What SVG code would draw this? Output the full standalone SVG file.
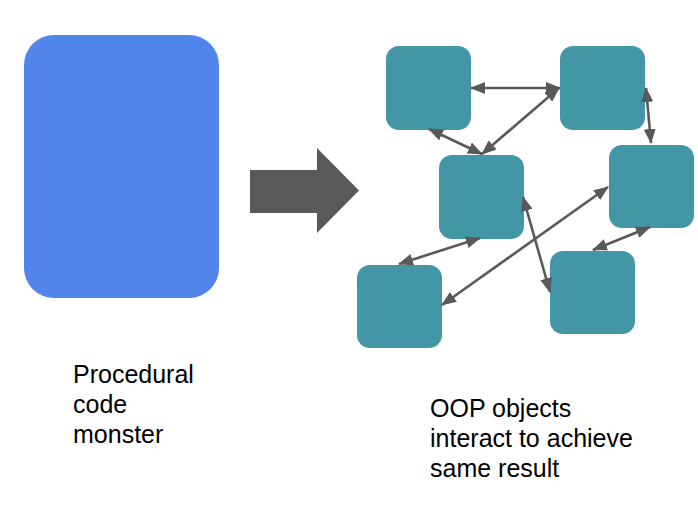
<svg xmlns="http://www.w3.org/2000/svg" width="698" height="528" viewBox="0 0 698 528">
<style>
.obj{fill:#4396A6}
.c{stroke:#595959;stroke-width:2.6;fill:none;marker-start:url(#ah);marker-end:url(#ah)}
.t{font-family:"Liberation Sans",Arial,sans-serif;font-size:25px;fill:#000}
</style>
<defs>
<marker id="ah" viewBox="0 0 15 12" refX="14" refY="6" markerWidth="15" markerHeight="12" orient="auto-start-reverse" markerUnits="userSpaceOnUse" preserveAspectRatio="none">
<path d="M0,0 L15,6 L0,12 z" fill="#595959"/>
</marker>
</defs>
<rect width="698" height="528" fill="#fff"/>
<g id="monster"><rect x="24" y="35" width="195" height="263" rx="30" fill="#5185EC"/></g>
<g id="bigarrow"><polygon points="250,170 317,170 317,148 359,190.5 317,233 317,213 250,213" fill="#595959"/></g>
<g id="objA"><rect class="obj" x="386" y="46" width="85" height="84" rx="13"/></g>
<g id="objB"><rect class="obj" x="560" y="46" width="85" height="84" rx="13"/></g>
<g id="objC"><rect class="obj" x="439" y="155" width="85" height="84" rx="13"/></g>
<g id="objD"><rect class="obj" x="609" y="145" width="85" height="83" rx="13"/></g>
<g id="objE"><rect class="obj" x="357" y="265" width="85" height="83" rx="13"/></g>
<g id="objF"><rect class="obj" x="550" y="251" width="85" height="83" rx="13"/></g>
<g id="connectors">
<line class="c" x1="471" y1="88" x2="560" y2="88"/>
<line class="c" x1="429" y1="129" x2="482" y2="154"/>
<line class="c" x1="559" y1="88" x2="482" y2="154"/>
<line class="c" x1="646" y1="88" x2="651" y2="143"/>
<line class="c" x1="480" y1="238" x2="399" y2="264"/>
<line class="c" x1="442" y1="305" x2="608" y2="187"/>
<line class="c" x1="523" y1="197" x2="550" y2="292"/>
<line class="c" x1="650" y1="227" x2="593" y2="250"/>
</g>
<g id="label1"><text class="t" x="73" y="383">Procedural</text><text class="t" x="73" y="413">code</text><text class="t" x="73" y="443">monster</text></g>
<g id="label2"><text class="t" x="430" y="417">OOP objects</text><text class="t" x="430" y="447">interact to achieve</text><text class="t" x="430" y="477">same result</text></g>
</svg>
